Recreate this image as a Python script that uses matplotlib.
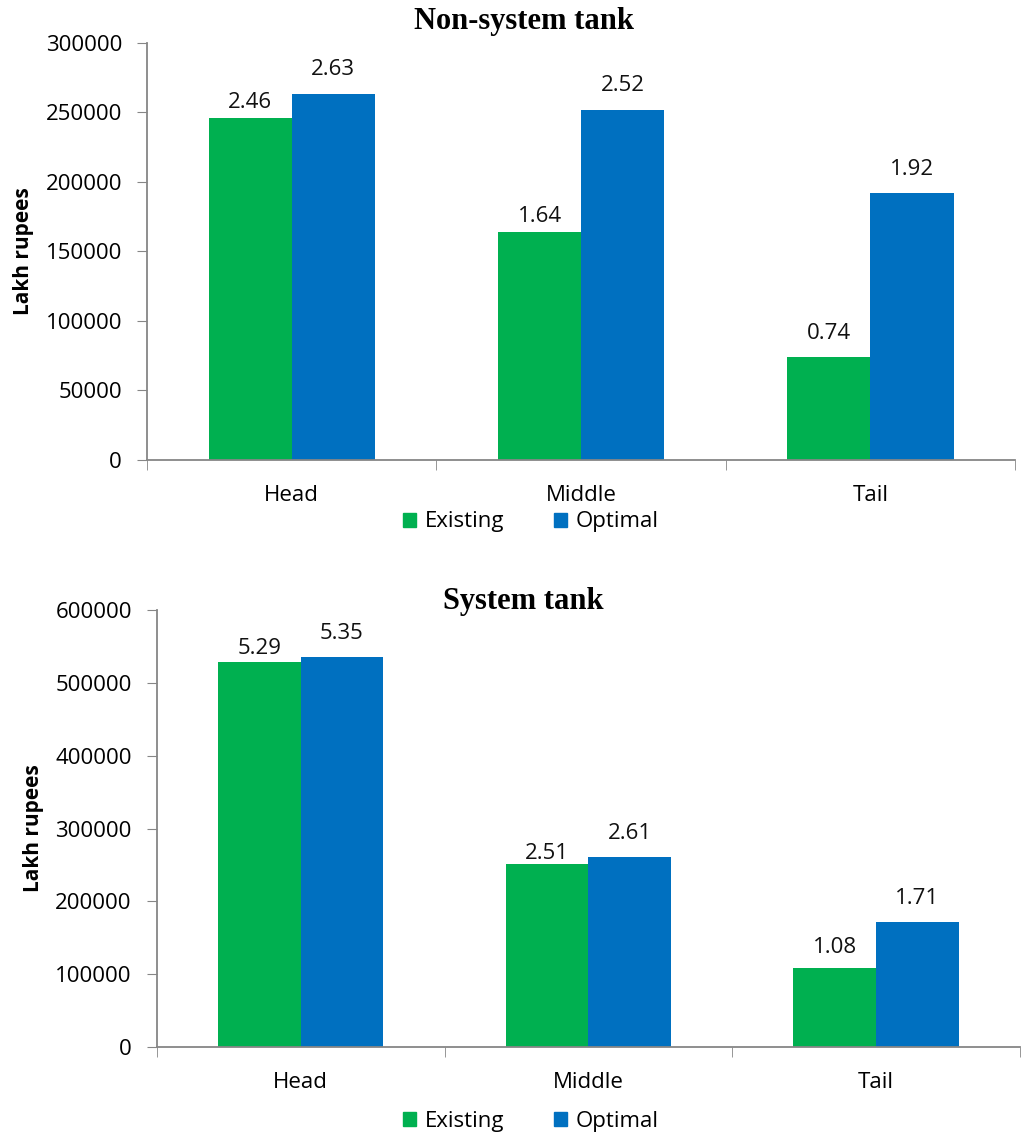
import matplotlib
matplotlib.use("Agg")
import matplotlib.pyplot as plt
import numpy as np
from matplotlib.patches import Patch

categories = ["Head", "Middle", "Tail"]
series_names = ["Existing", "Optimal"]

top_existing = [246000, 164000, 74000]
top_optimal = [263000, 252000, 192000]
top_exist_labels = ["2.46", "1.64", "0.74"]
top_opt_labels = ["2.63", "2.52", "1.92"]

bot_existing = [529000, 251000, 108000]
bot_optimal = [535000, 261000, 171000]
bot_exist_labels = ["5.29", "2.51", "1.08"]
bot_opt_labels = ["5.35", "2.61", "1.71"]

# label gaps above bars (pixels), styling only
top_exist_gap = [10, 10, 18]
top_opt_gap = [19, 19, 18]
bot_exist_gap = [8, 5, 15]
bot_opt_gap = [18, 18, 18]

GREEN = "#00B050"
BLUE = "#0070C0"
AXC = "#868686"
FS = 16

plt.rcParams["font.family"] = ["Open Sans", "DejaVu Sans"]

fig = plt.figure(figsize=(10.25, 11.34), dpi=100)

def panel(rect, exist, opt, elab, olab, egap, ogap, title, ymax, step, title_y, leg_y):
    ax = fig.add_axes(rect)
    x = np.arange(len(categories))
    w = 0.287
    ax.bar(x - w/2, exist, w, color=GREEN)
    ax.bar(x + w/2, opt, w, color=BLUE)
    for xs, vals, labs, gaps in ((x - w/2, exist, elab, egap), (x + w/2, opt, olab, ogap)):
        for xi, v, t, g in zip(xs, vals, labs, gaps):
            ax.annotate(t, (xi, v), xytext=(0, g * 0.72), textcoords="offset points",
                        ha="center", va="baseline", fontsize=FS, color="#111111")
    ax.set_xlim(-0.5, 2.5)
    ax.set_ylim(0, ymax)
    ticks = np.arange(0, ymax + 1, step)
    ax.set_yticks(ticks)
    ax.set_yticklabels([f"{int(v)}" for v in ticks], fontsize=FS)
    ax.set_xticks(x)
    ax.set_xticklabels(categories, fontsize=FS)
    ax.tick_params(axis="x", length=0, pad=18)
    ax.set_xticks([-0.5, 0.5, 1.5, 2.5], minor=True)
    ax.tick_params(axis="x", which="minor", length=7, color=AXC, direction="out")
    ax.tick_params(axis="y", length=7, color=AXC, direction="out", pad=11)
    for s in ["top", "right"]:
        ax.spines[s].set_visible(False)
    for s in ["left", "bottom"]:
        ax.spines[s].set_color(AXC)
        ax.spines[s].set_linewidth(1.3)
    ax.set_ylabel("Lakh rupees", fontsize=15, fontweight="bold", labelpad=8)
    fig.text(0.511, title_y, title, ha="center", va="center",
             fontsize=22, fontweight="bold", family="Liberation Serif")
    handles = [Patch(color=GREEN, label=series_names[0]),
               Patch(color=BLUE, label=series_names[1])]
    fig.legend(handles=handles, loc="center", bbox_to_anchor=(0.518, leg_y),
               ncol=2, frameon=False, fontsize=FS, handlelength=0.6,
               handleheight=0.6, handletextpad=0.4, columnspacing=2.2)
    return ax

panel([0.1434, 0.5944, 0.847, 0.3677], top_existing, top_optimal,
      top_exist_labels, top_opt_labels, top_exist_gap, top_opt_gap,
      "Non-system tank", 300000, 50000, 1 - 22/1134, 1 - 522/1134)
panel([0.153, 0.0767, 0.842, 0.3854], bot_existing, bot_optimal,
      bot_exist_labels, bot_opt_labels, bot_exist_gap, bot_opt_gap,
      "System tank", 600000, 100000, 1 - 602/1134, 1 - 1121/1134)

fig.savefig("out.png", dpi=100, facecolor="white")
